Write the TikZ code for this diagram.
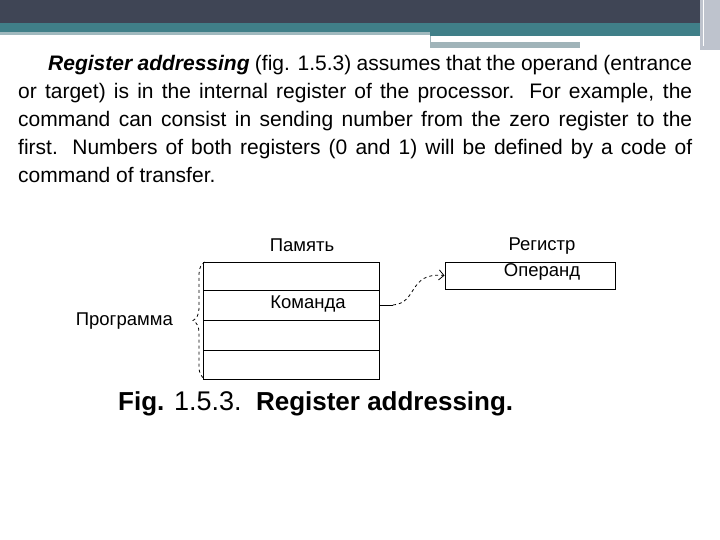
\documentclass[tikz,border=0pt]{standalone}
\usepackage{fontspec}
\setmainfont{Liberation Sans}
\usetikzlibrary{decorations.pathreplacing,arrows.meta}
\begin{document}
\begin{tikzpicture}[x=1pt,y=-1pt,
  lbl/.style={inner sep=0pt,font=\fontsize{18.5}{20}\selectfont},
  cell/.style={draw,line width=1pt}]
\useasboundingbox (0,0) rectangle (720,540);
\fill[white] (0,0) rectangle (720,540);
\fill[fill={rgb,255:red,63;green,69;blue,85}] (0,0) rectangle (720,23);
\fill[fill={rgb,255:red,64;green,127;blue,136}] (0,23) rectangle (720,32);
\fill[fill={rgb,255:red,160;green,185;blue,190}] (0,32) rectangle (430,35);
\fill[fill={rgb,255:red,64;green,127;blue,136}] (430,32) rectangle (700,36);
\fill[fill={rgb,255:red,160;green,180;blue,185}] (430,42) rectangle (580,48);
\fill[fill={rgb,255:red,160;green,180;blue,185}] (430,36) rectangle (430.8,48);
\fill[fill={rgb,255:red,190;green,195;blue,205}] (700,0) rectangle (720,50);
\draw[white,line width=1pt] (703,0) -- (703,46);
\node[anchor=north west,inner sep=0pt,text width=674pt,align=justify,
  font=\fontsize{21}{28}\selectfont] (para) at (18,55)
 {\hspace*{30pt}\textbf{\textit{Register addressing}} (fig. 1.5.3) assumes that the operand (entrance or target) is in the internal register of the processor. For example, the command can consist in sending number from the zero register to the first. Numbers of both registers (0 and 1) will be defined by a code of command of transfer.};
\draw[cell] (203,262) rectangle (379,379);
\draw[line width=1pt] (203,290) -- (379,290) (203,320) -- (379,320) (203,350) -- (379,350);
\coordinate (cmd) at (379,305);
\node[cell,minimum width=170pt,minimum height=27pt,inner sep=0pt] (reg) at (530,275.5) {};
\node[lbl] (mem) at (302,245) {Память};
\node[lbl] (regl) at (542,246) {Регистр};
\node[lbl] (op) at (542,272) {Операнд};
\node[lbl] (cm) at (308,304) {Команда};
\node[lbl,anchor=east] (prog) at (173,321) {Программа};
\draw[dashed,line width=0.8pt,decorate,decoration={brace,amplitude=12pt,mirror}] (205,262) -- (205,379) ;
\draw[line width=0.8pt] (cmd) -- (393,305);
\draw[dashed,line width=0.8pt,-{Straight Barb[length=5pt]}] (393,305) .. controls (418,303) and (408,272) .. (reg.west);
\node[anchor=west,inner sep=0pt,font=\bfseries\fontsize{26}{28}\selectfont] (cap) at (118,404)
 {Fig. \mdseries\fontsize{27}{28}\selectfont 1.5.3.\bfseries\fontsize{26}{28}\selectfont\ \ Register addressing.};
\end{tikzpicture}
\end{document}
